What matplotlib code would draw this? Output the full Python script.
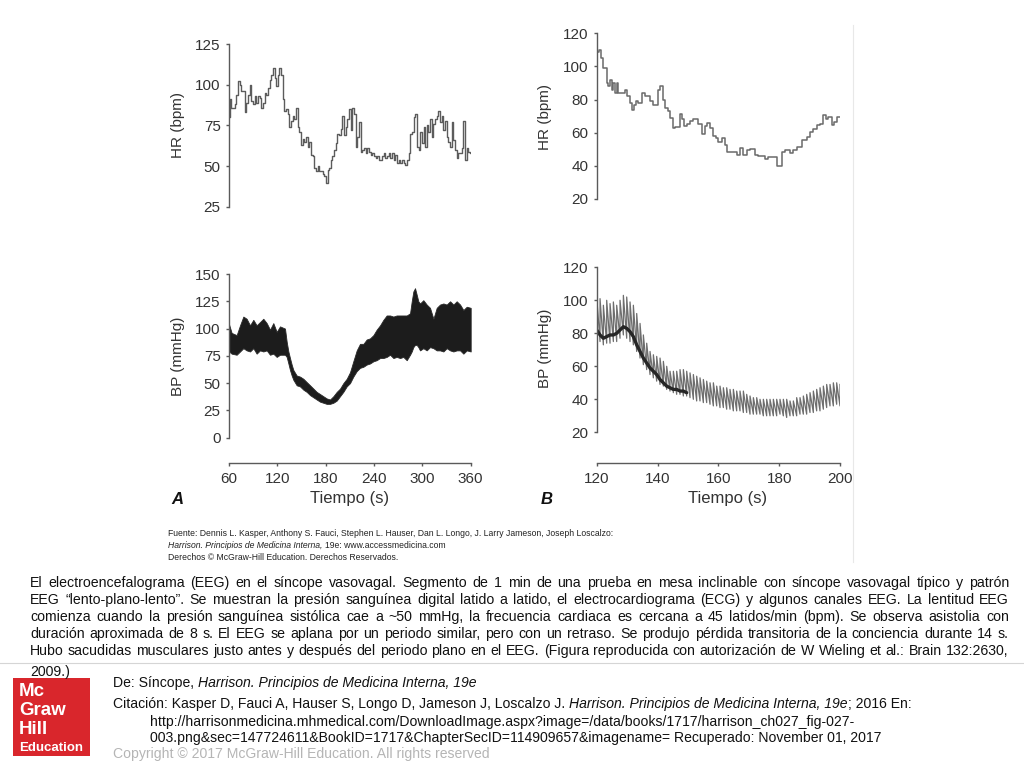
import numpy as np
import matplotlib
matplotlib.use("Agg")
import matplotlib.pyplot as plt
from matplotlib.patches import Rectangle
from matplotlib.lines import Line2D

plt.rcParams["font.family"] = ["Liberation Sans", "DejaVu Sans"]

# ── Data ─────────────────────────────────────────────────────────────────────

# panel A, heart rate, roughly every 2 s from 60 to 360 s
hr_a = [80, 91, 86, 86, 88, 94, 102, 100, 96, 96,
        83, 89, 94, 100, 90, 88, 93, 89, 93, 92,
        86, 89, 95, 94, 98, 103, 106, 110, 104, 99,
        106, 110, 106, 91, 84, 85, 82, 74, 78, 81,
        79, 86, 74, 71, 63, 67, 65, 68, 62, 65,
        57, 56, 49, 47, 50, 47, 47, 45, 44, 40,
        48, 49, 54, 56, 60, 64, 70, 69, 73, 81,
        69, 74, 79, 85, 72, 86, 82, 62, 68, 77,
        59, 60, 61, 58, 61, 59, 57, 58, 56, 55,
        56, 54, 54, 56, 58, 55, 56, 58, 55, 58,
        54, 57, 52, 54, 52, 54, 52, 51, 54, 58,
        70, 71, 80, 82, 62, 60, 71, 64, 74, 62,
        75, 71, 79, 68, 76, 79, 81, 84, 77, 81,
        72, 78, 68, 65, 62, 77, 66, 60, 55, 58,
        58, 61, 78, 54, 61, 59, 58]

# panel A, blood pressure band (systolic / diastolic envelope)
bp_a_t = [60, 63.3, 69.5, 73.7, 77.8, 81.9, 86.1, 90.2, 94.3, 98.5,
          102.6, 106.8, 110.9, 115, 119.2, 123.3, 129.5, 131.6, 133.7, 135.7,
          137.8, 139.9, 144, 148.1, 152.3, 156.4, 160.6, 164.7, 168.8, 173,
          177.1, 181.2, 185.4, 189.5, 193.7, 197.8, 201.9, 206.1, 210.2, 214.3,
          218.5, 222.6, 226.8, 230.9, 235, 239.2, 243.3, 247.5, 251.6, 255.7,
          259.9, 264, 268.1, 272.3, 276.4, 280.6, 284.7, 286.8, 288.8, 290.9,
          293, 295, 297.1, 301.2, 305.4, 309.5, 313.7, 317.8, 321.9, 326.1,
          330.2, 334.4, 338.5, 342.6, 346.8, 350.9, 355.1, 360]
bp_a_sys = [104, 96, 94, 103, 111, 109, 103, 108, 103, 106,
            109, 105, 99, 105, 97, 102, 100, 88, 79, 73,
            67, 62, 57, 56, 54, 51, 48, 45, 42, 40,
            38, 36, 35, 38, 42, 45, 50, 54, 60, 70,
            80, 86, 86, 90, 91, 94, 99, 103, 108, 112,
            112, 111, 112, 112, 112, 112, 114, 125, 134, 137,
            131, 125, 123, 126, 122, 119, 109, 119, 122, 123,
            122, 125, 122, 125, 122, 117, 120, 119]
bp_a_dia = [79, 77, 76, 79, 82, 80, 79, 82, 77, 80,
            79, 80, 76, 77, 74, 76, 76, 74, 68, 62,
            57, 53, 48, 47, 44, 42, 39, 37, 35, 33,
            32, 31, 31, 32, 34, 38, 42, 47, 50, 56,
            61, 64, 65, 67, 68, 70, 71, 73, 73, 74,
            76, 73, 74, 73, 74, 71, 76, 79, 83, 85,
            85, 83, 80, 82, 80, 83, 82, 80, 80, 79,
            82, 80, 79, 80, 80, 77, 80, 79]

# panel B, heart rate steps: start time of each step (last entry = end)
hr_b_t = [120.0, 120.9, 121.3, 122.0, 122.7, 123.3, 123.8, 124.4, 124.9, 125.5,
          126.0, 126.6, 127.1, 129.3, 130.1, 131.0, 131.5, 132.3, 132.9, 133.7,
          134.8, 135.9, 137.5, 138.6, 140.3, 140.8, 141.7, 142.5, 143.6, 144.1,
          145.0, 145.8, 147.4, 147.9, 148.7, 149.8, 150.7, 151.8, 153.4, 154.5,
          155.6, 156.2, 157.3, 158.4, 159.2, 160.0, 161.1, 162.2, 163.0, 166.0,
          167.1, 168.2, 169.3, 170.4, 172.1, 173.2, 175.3, 176.4, 179.2, 180.8,
          181.9, 183.6, 184.7, 185.8, 187.4, 189.1, 190.1, 191.2, 192.3, 193.4,
          194.5, 195.4, 196.2, 197.3, 198.0, 198.9, 200.0]
hr_b = [109, 110, 105, 99, 99, 90, 88, 92, 86, 90,
        84, 90, 84, 86, 82, 78, 74, 77, 79, 78,
        84, 82, 79, 77, 86, 88, 80, 75, 73, 69,
        63, 63.6, 71, 68, 64, 65, 67, 68, 65, 59,
        64, 66, 63, 58, 57, 54.5, 57, 52.5, 48.5, 46.5,
        50.5, 46.5, 49.5, 50, 46.5, 46, 44, 45.5, 40, 48.5,
        49.5, 47.5, 49.5, 51.5, 55.5, 57.5, 60.5, 62.5, 64.5, 65.5,
        70.5, 68.5, 69.5, 64.5, 66.5, 69.5]

# panel B, beat-to-beat pressure, about every 1.1 s from 120 to 200 s
bp_b_sys = [102, 101, 97, 100, 98, 99, 97, 100, 103, 102,
            99, 97, 92, 86, 79, 74, 69, 67, 66, 65,
            63, 60, 57, 57, 57, 58, 58, 57, 56, 55,
            54, 53, 52, 51, 50, 50, 48, 48, 47, 47,
            46, 46, 45, 45, 45, 43, 42, 41, 41, 40,
            40, 40, 40, 40, 40, 40, 40, 40, 39, 39,
            41, 41, 42, 43, 44, 45, 46, 47, 48, 49,
            49, 50, 50, 49]
bp_b_dia = [77, 75, 73, 74, 74, 75, 75, 77, 79, 77,
            75, 73, 69, 65, 61, 58, 55, 53, 51, 49,
            48, 46, 45, 44, 43, 43, 42, 42, 41, 40,
            39, 39, 38, 38, 37, 36, 36, 35, 35, 34,
            34, 33, 33, 33, 32, 32, 31, 31, 31, 31,
            30, 30, 30, 30, 30, 31, 30, 29, 30, 30,
            30, 31, 31, 31, 32, 32, 33, 33, 34, 35,
            36, 36, 37, 36]
# darker trace riding on the diastolic side in the first 30 s
bp_b_dark = [82, 79, 77, 78, 79, 79, 80, 82, 84, 83,
             81, 78, 73, 69, 65, 62, 59, 57, 55, 52,
             50, 48, 47, 46, 46, 45, 45, 44]

# ── Text ─────────────────────────────────────────────────────────────────────

# each run: (text, style, space before it)
source_lines = [
    [("Fuente: Dennis L. Kasper, Anthony S. Fauci, Stephen L. Hauser, Dan L. Longo, "
      "J. Larry Jameson, Joseph Loscalzo:", "normal", False)],
    [("Harrison. Principios de Medicina Interna,", "italic", False),
     ("19e: www.accessmedicina.com", "normal", True)],
    [("Derechos © McGraw-Hill Education. Derechos Reservados.", "normal", False)],
]

caption_lines = [
    "El electroencefalograma (EEG) en el síncope vasovagal. Segmento de 1 min de una prueba en mesa inclinable con síncope vasovagal típico y patrón",
    "EEG “lento-plano-lento”. Se muestran la presión sanguínea digital latido a latido, el electrocardiograma (ECG) y algunos canales EEG. La lentitud EEG",
    "comienza cuando la presión sanguínea sistólica cae a ~50 mmHg, la frecuencia cardiaca es cercana a 45 latidos/min (bpm). Se observa asistolia con",
    "duración aproximada de 8 s. El EEG se aplana por un periodo similar, pero con un retraso. Se produjo pérdida transitoria de la conciencia durante 14 s.",
    "Hubo sacudidas musculares justo antes y después del periodo plano en el EEG. (Figura reproducida con autorización de W Wieling et al.: Brain 132:2630,",
    "2009.)",
]

citation_lines = [
    (113, 687, [("De: Síncope,", "normal", False),
                ("Harrison. Principios de Medicina Interna, 19e", "italic", True)]),
    (113, 708, [("Citación: Kasper D, Fauci A, Hauser S, Longo D, Jameson J, Loscalzo J.", "normal", False),
                ("Harrison. Principios de Medicina Interna, 19e", "italic", True),
                ("; 2016 En:", "normal", False)]),
    (150, 726, [("http://harrisonmedicina.mhmedical.com/DownloadImage.aspx?image=/data/books/1717/harrison_ch027_fig-027-", "normal", False)]),
    (150, 742, [("003.png&sec=147724611&BookID=1717&ChapterSecID=114909657&imagename= Recuperado: November 01, 2017", "normal", False)]),
]

# ── Figure ───────────────────────────────────────────────────────────────────

W, H = 1024, 768
AXIS = "#5a5a5a"
TXT = "#333333"
TRACE = "#5c5c5c"

fig = plt.figure(figsize=(W / 100, H / 100), dpi=100)
fig.patch.set_facecolor("white")
renderer = fig.canvas.get_renderer()


def px_axes(x0, y0, x1, y1):
    return fig.add_axes([x0 / W, 1 - y1 / H, (x1 - x0) / W, (y1 - y0) / H])


def put(x, y, s, **kw):
    return fig.text(x / W, 1 - y / H, s, **kw)


def text_w(artist):
    return artist.get_window_extent(renderer).width


def style_axes(ax, yticks, xticks=None, drop=0):
    ax.set_facecolor("none")
    for s in ("top", "right"):
        ax.spines[s].set_visible(False)
    ax.spines["left"].set_bounds(yticks[0], yticks[-1])
    ax.set_yticks(yticks)
    if xticks is None:
        ax.spines["bottom"].set_visible(False)
        ax.set_xticks([])
    else:
        ax.spines["bottom"].set_position(("outward", drop))
        ax.spines["bottom"].set_bounds(xticks[0], xticks[-1])
        ax.set_xticks(xticks)
    for s in ("left", "bottom"):
        ax.spines[s].set_color(AXIS)
        ax.spines[s].set_linewidth(1.0)
    ax.tick_params(axis="y", length=2.5, width=1, color=AXIS,
                   labelsize=11, labelcolor=TXT, pad=3.5)
    ax.tick_params(axis="x", length=2.5, width=1, color=AXIS,
                   labelsize=11, labelcolor=TXT, pad=4)


# panel A — heart rate
ax1 = px_axes(229, 44, 470.7, 207)
ax1.set_xlim(60, 360)
ax1.set_ylim(25, 125)
t_hr_a = np.linspace(60, 360, len(hr_a))
ax1.plot(t_hr_a, hr_a, drawstyle="steps-mid", color=TRACE, lw=1.0)
style_axes(ax1, [25, 50, 75, 100, 125])

# panel A — blood pressure
ax2 = px_axes(229, 274, 470.7, 437.7)
ax2.set_xlim(60, 360)
ax2.set_ylim(0, 150)
ax2.fill_between(bp_a_t, bp_a_dia, bp_a_sys, color="#1c1c1c", lw=0.6,
                 edgecolor="#2a2a2a")
style_axes(ax2, [0, 25, 50, 75, 100, 125, 150],
           [60, 120, 180, 240, 300, 360], drop=18)

# panel B — heart rate
ax3 = px_axes(596.7, 33.3, 840, 199)
ax3.set_xlim(120, 200)
ax3.set_ylim(20, 120)
ax3.step(hr_b_t, hr_b + [hr_b[-1]], where="post", color="#6a6a6a", lw=1.1)
style_axes(ax3, [20, 40, 60, 80, 100, 120])

# panel B — blood pressure, drawn as upstroke + decay per beat
ax4 = px_axes(596.7, 267.3, 840, 432.3)
ax4.set_xlim(120, 200)
ax4.set_ylim(20, 120)
t_bp_b = np.linspace(120, 200, len(bp_b_sys))
saw_x = np.repeat(t_bp_b, 2)
saw_y = np.column_stack([bp_b_dia, bp_b_sys]).ravel()
ax4.plot(saw_x, saw_y, color="#6e6e6e", lw=0.9)
ax4.plot(t_bp_b[:len(bp_b_dark)], bp_b_dark, color="#262626", lw=2.4,
         solid_capstyle="round")
style_axes(ax4, [20, 40, 60, 80, 100, 120],
           [120, 140, 160, 180, 200], drop=22)

# axis titles and panel letters
put(178, 125, "HR (bpm)", rotation=90, ha="center", va="center", fontsize=11, color=TXT)
put(178, 356, "BP (mmHg)", rotation=90, ha="center", va="center", fontsize=11, color=TXT)
put(545, 117, "HR (bpm)", rotation=90, ha="center", va="center", fontsize=11, color=TXT)
put(545, 348, "BP (mmHg)", rotation=90, ha="center", va="center", fontsize=11, color=TXT)
put(349.5, 498, "Tiempo (s)", ha="center", va="center", fontsize=12, color=TXT)
put(728, 498, "Tiempo (s)", ha="center", va="center", fontsize=12, color=TXT)
put(177, 499, "A", ha="center", va="center", fontsize=12, color="#111111",
    fontweight="bold", style="italic")
put(547, 499, "B", ha="center", va="center", fontsize=12, color="#111111",
    fontweight="bold", style="italic")

# faint frame line at the right of the figure image
fig.add_artist(Line2D([852.5 / W] * 2, [1 - 25 / H, 1 - 562 / H],
                      color="#e8e8e8", lw=0.8))


def write_runs(x, y, parts, size, color):
    probe = put(0, 0, "x x", fontsize=size)
    probe2 = put(0, 0, "xx", fontsize=size)
    space = text_w(probe) - text_w(probe2)
    probe.remove()
    probe2.remove()
    for s, style, gap in parts:
        if gap:
            x += space
        t = put(x, y, s, fontsize=size, style=style, color=color,
                ha="left", va="baseline")
        x += text_w(t)
    return x


for i, parts in enumerate(source_lines):
    write_runs(168, 535.5 + i * 12.2, parts, 6.2, "#222222")


def justify(line, x0, x1, yb, size, color, last=False):
    words = line.split(" ")
    arts = [put(x0, yb, w, fontsize=size, color=color, ha="left", va="baseline")
            for w in words]
    widths = [text_w(a) for a in arts]
    if last or len(words) == 1:
        gap = size * 0.38
    else:
        gap = (x1 - x0 - sum(widths)) / (len(words) - 1)
    x = x0
    for a, w in zip(arts, widths):
        a.set_x(x / W)
        x += w + gap


for i, line in enumerate(caption_lines[:-1]):
    justify(line, 30, 1009, 587 + i * 17.0, 10.2, "#111111")
justify(caption_lines[-1], 30, 1009, 676, 10.2, "#111111", last=True)

# separator under the caption
fig.add_artist(Line2D([0, 1], [1 - 662.5 / H] * 2, color="#d5d5d5", lw=0.8))

# McGraw-Hill logo
fig.add_artist(Rectangle((13 / W, 1 - 756 / H), 77 / W, 78 / H,
                         transform=fig.transFigure, color="#d9262c", lw=0))
for word, yb, fs in [("Mc", 696, 13.5), ("Graw", 715, 13.5),
                     ("Hill", 734, 13.5), ("Education", 751, 9.5)]:
    put(19, yb, word, fontsize=fs, fontweight="bold", color="white",
        ha="left", va="baseline")

# citation block
for x, yb, parts in citation_lines:
    write_runs(x, yb, parts, 10.1, "#111111")
put(113, 758, "Copyright © 2017 McGraw-Hill Education. All rights reserved",
    fontsize=10.1, color="#b5b5b5", ha="left", va="baseline")

fig.savefig("out.png", dpi=100, facecolor="white")
